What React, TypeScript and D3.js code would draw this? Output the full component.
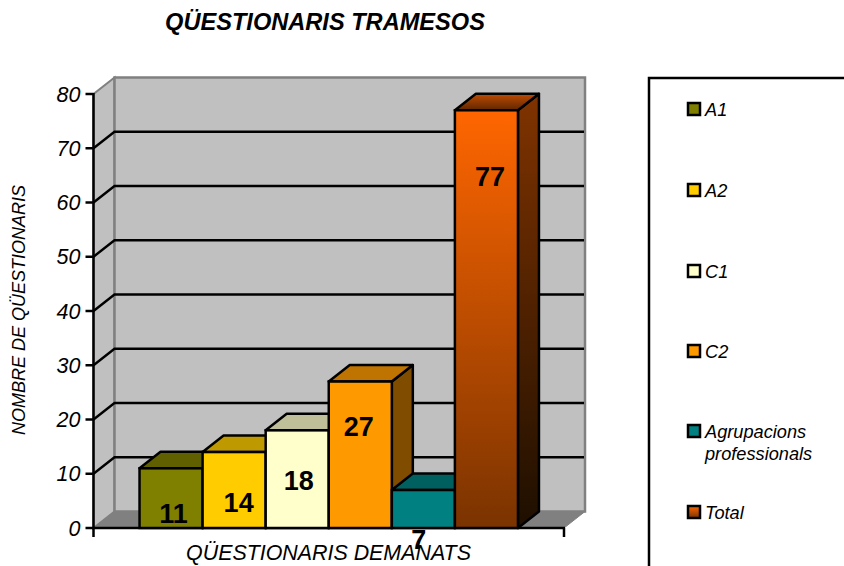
import React from "react";
import * as d3 from "d3";

const categories = ["A1", "A2", "C1", "C2", "Agrupacions professionals", "Total"];
const values = [11, 14, 18, 27, 7, 77];
const yTicks = [0, 10, 20, 30, 40, 50, 60, 70, 80];
const frontColors = ["#808000", "#FFCC00", "#FFFFCC", "#FF9900", "#008080", "url(#totalFront)"];
const topColors = ["#606000", "#BF9900", "#BFBF99", "#BF7300", "#006060", "url(#totalTop)"];
const sideColors = ["#404000", "#7F6600", "#7F7F66", "#7F4C00", "#004040", "url(#totalSide)"];
const legendColors = ["#808000", "#FFCC00", "#FFFFCC", "#FF9900", "#008080", "url(#totalLegend)"];
const legendLines = [["A1"], ["A2"], ["C1"], ["C2"], ["Agrupacions", "professionals"], ["Total"]];
const legendY = [109, 190, 271, 351, 431, 512];
const labelShiftY = [45, 50, 50, 45, 49.5, 66];
const labelShiftX = [2.5, 4.5, 1.5, -1.5, -4.5, 3.5];

const FONT = "'Liberation Sans', Arial, sans-serif";
const left = 93.5, right = 564, bottom = 528, top = 94;
const dx = 21, dy = -16.5;

export default function App() {
  const y = d3.scaleLinear().domain([0, 80]).range([bottom, top]);
  const x = d3.scaleBand<string>().domain(categories).range([left, right]).paddingInner(0).paddingOuter(0.73);
  const w = x.bandwidth();
  const poly = (pts: number[][]) => pts.map((p) => p.join(",")).join(" ");
  return (
    <svg width={844} height={566} style={{ position: "absolute", left: 0, top: 0, background: "#fff" }} fontFamily={FONT}>
      <defs>
        <linearGradient id="totalFront" x1="0" y1="0" x2="0" y2="1">
          <stop offset="0" stopColor="#FF6600" />
          <stop offset="1" stopColor="#7A3300" />
        </linearGradient>
        <linearGradient id="totalSide" x1="0" y1="0" x2="0" y2="1">
          <stop offset="0" stopColor="#803300" />
          <stop offset="1" stopColor="#1E0F00" />
        </linearGradient>
        <linearGradient id="totalTop" x1="0" y1="0" x2="0" y2="1">
          <stop offset="0" stopColor="#BF4C00" />
          <stop offset="1" stopColor="#5F2600" />
        </linearGradient>
        <linearGradient id="totalLegend" x1="0" y1="0" x2="0" y2="1">
          <stop offset="0" stopColor="#FF6600" />
          <stop offset="1" stopColor="#7A3300" />
        </linearGradient>
      </defs>

      <text x={325} y={30} textAnchor="middle" fontSize={23.6} fontWeight="bold" fontStyle="italic">QÜESTIONARIS TRAMESOS</text>

      {/* walls and floor */}
      <polygon points={poly([[left, bottom], [left, top], [left + dx, top + dy], [left + dx, bottom + dy]])} fill="#C0C0C0" stroke="#808080" strokeWidth={2} />
      <polygon points={poly([[left + dx, top + dy], [right + dx, top + dy], [right + dx, bottom + dy], [left + dx, bottom + dy]])} fill="#C0C0C0" stroke="#808080" strokeWidth={2.5} />
      <polygon points={poly([[left, bottom], [right, bottom], [right + dx, bottom + dy], [left + dx, bottom + dy]])} fill="#808080" stroke="#808080" strokeWidth={1} />

      {/* gridlines */}
      {yTicks.slice(1, -1).map((t) => (
        <polyline key={t} points={poly([[left, y(t)], [left + dx, y(t) + dy], [right + dx - 1, y(t) + dy]])} fill="none" stroke="#000" strokeWidth={2.4} />
      ))}

      {/* axes */}
      <line x1={left} x2={left} y1={top - 1} y2={bottom + 9} stroke="#000" strokeWidth={2.5} />
      <line x1={left - 1} x2={right + 1} y1={bottom} y2={bottom} stroke="#000" strokeWidth={2.5} />
      <line x1={right} x2={right} y1={bottom} y2={bottom + 9} stroke="#000" strokeWidth={2.5} />
      {yTicks.map((t) => (
        <g key={t}>
          <line x1={left - 8} x2={left} y1={y(t)} y2={y(t)} stroke="#000" strokeWidth={2.5} />
          <text x={80.5} y={y(t) + 7.5} textAnchor="end" fontSize={21.5} fontStyle="italic">{t}</text>
        </g>
      ))}

      {/* bars */}
      {categories.map((c, i) => {
        const x0 = x(c)!;
        const x1 = x0 + w;
        const yt = y(values[i]);
        return (
          <g key={c} stroke="#000" strokeWidth={2.5} strokeLinejoin="round">
            <polygon points={poly([[x1, bottom], [x1, yt], [x1 + dx, yt + dy], [x1 + dx, bottom + dy]])} fill={sideColors[i]} />
            <polygon points={poly([[x0, yt], [x0 + dx, yt + dy], [x1 + dx, yt + dy], [x1, yt]])} fill={topColors[i]} />
          </g>
        );
      })}
      {categories.map((c, i) => (
        <rect key={c} x={x(c)!} y={y(values[i])} width={w} height={bottom - y(values[i])} fill={frontColors[i]} stroke="#000" strokeWidth={2.5} />
      ))}

      {/* value labels */}
      {categories.map((c, i) => (
        <text key={c} x={x(c)! + w / 2 + labelShiftX[i]} y={y(values[i]) + labelShiftY[i] + 9.5} textAnchor="middle" fontSize={27} fontWeight="bold">{values[i]}</text>
      ))}

      <text x={328.5} y={560} textAnchor="middle" fontSize={21.4} fontStyle="italic">QÜESTIONARIS DEMANATS</text>
      <text transform="translate(25,310) rotate(-90)" textAnchor="middle" fontSize={18} fontStyle="italic">NOMBRE DE QÜESTIONARIS</text>

      {/* legend */}
      <rect x={649} y={78} width={240} height={540} fill="#fff" stroke="#000" strokeWidth={2.5} />
      {categories.map((c, i) => (
        <g key={c}>
          <rect x={688} y={legendY[i] - 6} width={12} height={12} fill={legendColors[i]} stroke="#000" strokeWidth={2.5} />
          {legendLines[i].map((l, j) => (
            <text key={l} x={705} y={legendY[i] + 6.5 + j * 22.5} fontSize={18.2} fontStyle="italic">{l}</text>
          ))}
        </g>
      ))}
    </svg>
  );
}
